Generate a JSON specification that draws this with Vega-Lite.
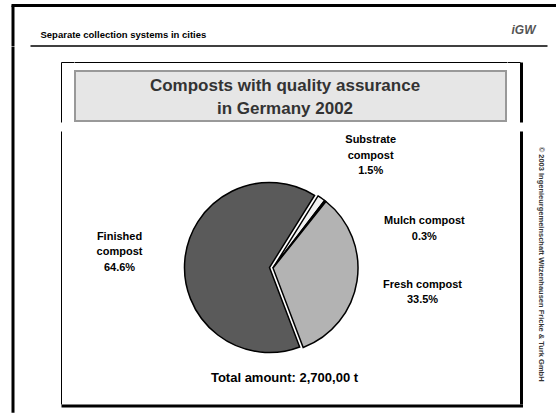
{
  "$schema": "https://vega.github.io/schema/vega-lite/v6.json",
  "background": "white",
  "padding": {"left": 11, "top": 5, "right": 0, "bottom": 0},
  "config": {
    "view": {"stroke": null},
    "font": "Liberation Sans",
    "axis": {"ticks": false, "labels": false, "grid": false, "domainColor": "black", "domainCap": "butt"}
  },
  "spacing": 0,
  "vconcat": [
    {
      "width": 545,
      "height": 40.5,
      "layer": [
        {
          "data": {"values": [{"v": 0.5}]},
          "mark": {"type": "text", "text": ""},
          "encoding": {
            "x": {"field": "v", "type": "quantitative", "scale": {"domain": [0, 1]},
              "axis": {"orient": "top", "domainWidth": 3,
                "title": "Separate collection systems in cities",
                "titleAnchor": "start", "titleAlign": "left", "titleBaseline": "alphabetic", "titleAngle": 0,
                "titleX": 29, "titleY": 32, "titleFontSize": 9.5, "titleFontWeight": "bold", "titleColor": "black", "titleFont": "Liberation Sans"}},
            "y": {"field": "v", "type": "quantitative", "scale": {"domain": [0, 1]},
              "axis": {"orient": "left", "domainWidth": 3, "offset": -1.5, "title": null}}
          }
        },
        {
          "data": {"values": [{"v": 0.5}]},
          "mark": {"type": "text", "text": ""},
          "encoding": {
            "x": {"field": "v", "type": "quantitative", "scale": {"domain": [0, 1], "range": [19, 536]},
              "axis": {"orient": "bottom", "domainWidth": 1.5,
                "title": "iGW", "titleAnchor": "end", "titleAlign": "right", "titleBaseline": "alphabetic", "titleAngle": 0,
                "titleX": 524, "titleY": -12, "titleFontSize": 12, "titleFontWeight": "bold", "titleFontStyle": "italic", "titleColor": "#555555"}}
          }
        }
      ],
      "resolve": {"scale": {"x": "independent"}, "axis": {"x": "independent"}}
    },
    {
      "spacing": 0,
      "hconcat": [
        {
          "width": 49.5,
          "height": 366.25,
          "data": {"values": [{"v": 0.5}]},
          "mark": {"type": "text", "text": ""},
          "encoding": {
            "y": {"field": "v", "type": "quantitative", "scale": {"domain": [0, 1]}, "axis": {"orient": "left", "domainWidth": 3, "offset": -1.5, "title": null}}
          }
        },
        {
          "spacing": 0,
          "vconcat": [
            {"width": 1, "height": 14.75, "data": {"values": [{}]}, "mark": {"type": "text", "text": ""}},
            {
              "spacing": 0,
              "hconcat": [
                {
                  "width": 13,
                  "height": 51,
                  "data": {"values": [{"v": 0.5}]},
                  "mark": {"type": "text", "text": ""},
                  "encoding": {
                    "x": {"field": "v", "type": "quantitative", "scale": {"domain": [0, 1]}, "axis": {"orient": "top", "domainWidth": 1, "offset": 9, "title": null}},
                    "y": {"field": "v", "type": "quantitative", "scale": {"domain": [0, 1], "range": [51, -9]}, "axis": {"orient": "left", "domainWidth": 1, "title": null}}
                  }
                },
                {
                  "width": 431,
                  "height": 50,
                  "view": {"fill": "#e6e6e6", "stroke": "#999999", "strokeWidth": 2},
                  "layer": [
                    {
                      "data": {"values": [{"v": 0.5}]},
                      "mark": {"type": "text", "text": ""},
                      "encoding": {
                        "x": {"field": "v", "type": "quantitative", "scale": {"domain": [0, 1]}, "axis": {"orient": "top", "domainWidth": 1, "offset": 9, "domainCap": "square", "title": null}}
                      }
                    },
                    {
                      "data": {"values": [{"t": "Composts with quality assurance"}]},
                      "mark": {
                        "type": "text",
                        "text": ["Composts with quality assurance", "in Germany 2002"],
                        "fontSize": 17, "fontWeight": "bold", "color": "#333333",
                        "lineHeight": 23, "dx": -5.5, "dy": -10,
                        "baseline": "middle", "align": "center"
                      }
                    }
                  ]
                },
                {
                  "width": 13,
                  "height": 51,
                  "data": {"values": [{"v": 0.5}]},
                  "mark": {"type": "text", "text": ""},
                  "encoding": {
                    "x": {"field": "v", "type": "quantitative", "scale": {"domain": [0, 1]}, "axis": {"orient": "top", "domainWidth": 1, "offset": 9, "title": null}},
                    "y": {"field": "v", "type": "quantitative", "scale": {"domain": [0, 1], "range": [51, -9]}, "axis": {"orient": "right", "domainWidth": 3, "offset": 1, "title": null}}
                  }
                }
              ]
            },
            {
              "width": 417,
              "height": 273,
              "layer": [
                {
                  "data": {"values": [{"v": 0.5}]},
                  "mark": {"type": "text", "text": ""},
                  "encoding": {
                    "x": {"field": "v", "type": "quantitative", "scale": {"domain": [0, 1], "range": [0, 461.5]}, "axis": {"orient": "bottom", "domainWidth": 3, "offset": 1.5, "title": null}},
                    "y": {"field": "v", "type": "quantitative", "scale": {"domain": [0, 1]}, "axis": {"orient": "left", "domainWidth": 1, "title": null}}
                  }
                },
                {
                  "data": {"values": [{"v": 0.5}]},
                  "mark": {"type": "text", "text": ""},
                  "encoding": {
                    "y": {"field": "v", "type": "quantitative", "scale": {"domain": [0, 1]}, "axis": {"orient": "right", "domainWidth": 3, "offset": 43, "title": null}}
                  }
                },
                {
                  "data": {
                    "values": [
                      {"cat": "Substrate compost", "pct": 1.5, "idx": 1, "label": "Substrate\ncompost\n1.5%"},
                      {"cat": "Mulch compost", "pct": 0.3, "idx": 2, "label": "Mulch compost\n0.3%"},
                      {"cat": "Fresh compost", "pct": 33.5, "idx": 3, "label": "Fresh compost\n33.5%"},
                      {"cat": "Finished compost", "pct": 64.6, "idx": 4, "label": "Finished\ncompost\n64.6%"}
                    ]
                  },
                  "encoding": {
                    "theta": {"field": "pct", "type": "quantitative", "stack": true, "scale": {"range": [0.5585, 6.8417]}},
                    "order": {"field": "idx", "type": "quantitative"}
                  },
                  "layer": [
                    {
                      "mark": {
                        "type": "arc", "outerRadius": 85, "stroke": "black", "strokeWidth": 1.5,
                        "xOffset": {"expr": "datum.cat == 'Finished compost' ? 0 : 3.5"},
                        "yOffset": {"expr": "datum.cat == 'Finished compost' ? 0 : 0.5"}
                      },
                      "encoding": {
                        "color": {
                          "field": "cat", "type": "nominal", "legend": null,
                          "scale": {
                            "domain": ["Substrate compost", "Mulch compost", "Fresh compost", "Finished compost"],
                            "range": ["#f2f2f2", "#1a1a1a", "#b3b3b3", "#5a5a5a"]
                          }
                        }
                      }
                    },
                    {
                      "mark": {
                        "type": "text", "radius": 125, "fontSize": 11, "fontWeight": "bold",
                        "lineBreak": "\n", "lineHeight": 15.5, "baseline": "middle", "align": "center", "color": "black",
                        "dx": {"expr": "datum.cat == 'Substrate compost' ? 30 : datum.cat == 'Mulch compost' ? 78 : datum.cat == 'Fresh compost' ? 29.5 : -25.6"},
                        "dy": {"expr": "datum.cat == 'Substrate compost' ? -24.5 : datum.cat == 'Mulch compost' ? 52.25 : datum.cat == 'Fresh compost' ? -1.75 : -18.5"}
                      },
                      "encoding": {"text": {"field": "label"}}
                    }
                  ]
                },
                {
                  "data": {"values": [{"t": "Total amount: 2,700,00 t"}]},
                  "mark": {"type": "text", "fontSize": 13, "fontWeight": "bold", "color": "black", "dx": 15, "dy": 110.5},
                  "encoding": {"text": {"field": "t"}}
                }
              ],
              "resolve": {"scale": {"y": "independent"}, "axis": {"y": "independent"}}
            }
          ]
        },
        {
          "width": 33,
          "height": 366.25,
          "data": {"values": [{"t": "© 2003 Ingenieurgemeinschaft Witzenhausen Fricke & Turk GmbH"}]},
          "mark": {"type": "text", "angle": 90, "fontSize": 7.5, "fontWeight": "bold", "color": "#333333", "dx": 35, "dy": -1.75, "align": "center", "baseline": "middle"},
          "encoding": {"text": {"field": "t"}}
        }
      ]
    }
  ]
}
